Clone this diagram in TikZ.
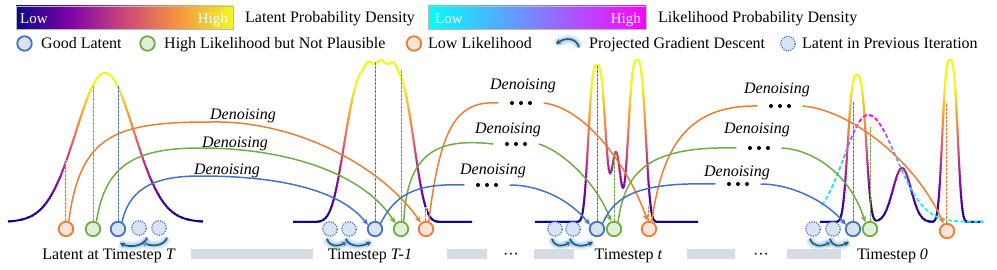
\documentclass[tikz,border=0pt]{standalone}
\usepackage{fontspec}
\setmainfont{Liberation Serif}
\usetikzlibrary{arrows.meta}
\definecolor{cblue}{HTML}{4472C4}
\definecolor{cgreen}{HTML}{70AD47}
\definecolor{corange}{HTML}{ED7D31}
\definecolor{fblue}{HTML}{DAE3F3}
\definecolor{fgreen}{HTML}{E2F0D9}
\definecolor{forange}{HTML}{FBE5D6}
\definecolor{pgdc}{HTML}{1F5F80}
\definecolor{glowc}{HTML}{9DC3E6}
\definecolor{barc}{HTML}{D5DCE6}
\definecolor{plA}{HTML}{0D0887}
\definecolor{plB}{HTML}{7E03A8}
\definecolor{plC}{HTML}{CC4778}
\definecolor{plD}{HTML}{F89540}
\definecolor{plE}{HTML}{F0F921}
\definecolor{coolA}{RGB}{0,255,255}
\definecolor{coolB}{RGB}{255,0,255}
\pgfdeclarehorizontalshading{plasmash}{100bp}{color(0bp)=(plA); color(25bp)=(plA); color(37.5bp)=(plB); color(50bp)=(plC); color(62.5bp)=(plD); color(75bp)=(plE); color(100bp)=(plE)}
\pgfdeclarelayer{bg}
\pgfdeclarelayer{mid}
\pgfsetlayers{bg,mid,main}
\newcommand\plasmaset[1]{%
  \pgfmathsetmacro\plT{max(0,min(0.999,#1))*4}%
  \pgfmathtruncatemacro\plK{\plT}%
  \pgfmathtruncatemacro\plP{(\plT-\plK)*100}%
  \ifcase\plK\space\colorlet{segc}{plB!\plP!plA}\or\colorlet{segc}{plC!\plP!plB}\or\colorlet{segc}{plD!\plP!plC}\else\colorlet{segc}{plE!\plP!plD}\fi}
\newcommand\coolset[1]{%
  \pgfmathtruncatemacro\clP{(max(0,min(1,#1)))^2*100}%
  \colorlet{segl}{coolB!\clP!coolA}}
\begin{document}
\begin{tikzpicture}[x=1pt,y=-1pt,
  declare function={
    fA(\x)=149*exp(0-((\x-105)^2)/1682);
    fB(\x)=160*exp(max(-15,0-(abs(\x-381)/ifthenelse(\x<381,40,36))^4))+2*exp(max(-15,0-(min(abs(\x-381),40)/20)^6))*cos(28*(\x-381));
    fC(\x)=157*exp(max(-15,0-(abs(\x-597)/10.2)^3))+70*exp(max(-15,0-((\x-616)^2)/40.5))+162*exp(max(-15,0-(abs(\x-637)/10.3)^3));
    fD(\x)=147*exp(max(-15,0-(abs(\x-857)/10.8)^3))+54*exp(max(-15,0-((\x-902)^2)/162))+162*exp(max(-15,0-(abs(\x-950)/9.05)^3));
    fL(\x)=107*exp(max(-15,0-((\x-868)^2)/ifthenelse(\x<868,1152,1568)));
  },
  txt/.style={font=\fontsize{16}{19}\selectfont, inner sep=0pt},
  lbl/.style={font=\fontsize{16}{19}\selectfont\itshape, inner sep=0pt},
  lowhigh/.style={font=\fontsize{15}{18}\selectfont, text=white, inner sep=0pt},
  cbar/.style={draw=gray!55, line width=0.7pt, minimum width=217pt, minimum height=23pt, inner sep=0pt},
  latc/.style={circle, minimum size=14.5pt, inner sep=0pt, line width=1.8pt},
  gl/.style={latc, draw=cblue, fill=fblue},
  hl/.style={latc, draw=cgreen, fill=fgreen},
  ll/.style={latc, draw=corange, fill=forange},
  prevc/.style={latc, draw=cblue, fill=fblue, line width=1.7pt, line cap=round, dash pattern=on 0.01pt off 2.45pt},
  vl/.style={line width=0.9pt, dash pattern=on 2.5pt off 1.5pt},
  vlo/.style={line width=0.6pt, draw=corange, double=forange, double distance=0.7pt, dash pattern=on 2.5pt off 1.5pt},
  dseg/.style={line width=1.5pt},
  den/.style={line width=1.5pt, -{Stealth[length=6.5pt,width=5.5pt]}},
  dotsn/.style={minimum width=45pt, minimum height=6pt, inner sep=0pt,
    path picture={\fill (path picture bounding box.center) circle (2pt) ++(-9,0) circle (2pt) ++(18,0) circle (2pt);}},
  pgd/.style={line width=1.7pt, draw=pgdc, line cap=round, -{Stealth[length=5pt,width=5.5pt]},
    preaction={draw=glowc, line width=9pt, opacity=0.3, -},
    preaction={draw=glowc, line width=5pt, opacity=0.55, -}},
  gbar/.style={fill=barc, inner sep=0pt, minimum height=10pt},
  dens/.style={line width=2pt, line join=round},
  lik/.style={line width=1.6pt, dash pattern=on 4pt off 2.5pt}
]
\useasboundingbox (0,0) rectangle (997,270);

% ---------- legend row 1
\node[cbar, shade, shading=plasmash] (cb1) at (124.5,17.5) {};
\node[lowhigh, anchor=base west] (cb1lo) at (20,24) {Low};
\node[lowhigh, anchor=base east] (cb1hi) at (228,24) {High};
\node[txt, anchor=base west] (t1) at (245,23) {Latent Probability Density};
\node[cbar, minimum width=218pt, left color=coolA, right color=coolB] (cb2) at (537,17.5) {};
\node[lowhigh, anchor=base west] (cb2lo) at (435,24) {Low};
\node[lowhigh, anchor=base east] (cb2hi) at (641,24) {High};
\node[txt, anchor=base west] (t2) at (658,23) {Likelihood Probability Density};

% ---------- legend row 2
\node[gl] (lg1) at (24.5,43.5) {};
\node[txt, anchor=base west] (t3) at (41,49) {Good Latent};
\node[hl] (lg2) at (147.5,43.5) {};
\node[txt, anchor=base west] (t4) at (164,49) {High Likelihood but Not Plausible};
\node[ll] (lg3) at (414,43.5) {};
\node[txt, anchor=base west] (t5) at (428,49) {Low Likelihood};
\coordinate (icA) at (579,47);
\coordinate (icB) at (556,44);
\draw[pgd] (icA) .. controls (576,38) and (566,37) .. (icB);
\node[txt, anchor=base west] (t6) at (589,49) {Projected Gradient Descent};
\node[prevc] (lg5) at (788,43.5) {};
\node[txt, anchor=base west] (t7) at (802,49) {Latent in Previous Iteration};

% ---------- latent circles
\node[ll] (o1) at (66,229) {};
\node[hl] (g1) at (93,229) {};
\node[gl] (b1) at (118,229) {};
\node[prevc] (d11) at (139,228) {};
\node[prevc] (d12) at (159,228) {};

\node[prevc] (d21) at (330,229) {};
\node[prevc] (d22) at (349,229) {};
\node[gl] (b2) at (375,229) {};
\node[hl] (g2) at (401,229) {};
\node[ll] (o2) at (426,229) {};

\node[prevc] (d31) at (555,229) {};
\node[prevc] (d32) at (573,229) {};
\node[gl] (b3) at (597,229) {};
\node[hl] (g3) at (614,229) {};
\node[ll] (o3) at (649,229) {};

\node[prevc] (d41) at (813,229) {};
\node[prevc] (d42) at (833,229) {};
\node[gl] (b4) at (853,229) {};
\node[hl] (g4) at (870,229) {};
\node[ll] (o4) at (947,231) {};

% ---------- dots nodes
\node[dotsn] (do2) at (521,103) {};
\node[dotsn] (dg2) at (516,144) {};
\node[dotsn] (db2) at (487,185) {};
\node[dotsn] (do3) at (780,106) {};
\node[dotsn] (dg3) at (759,148) {};
\node[dotsn] (db3) at (738,184) {};

% ---------- labels
\node[lbl, anchor=base] (lo1) at (243,120) {Denoising};
\node[lbl, anchor=base] (lg1l) at (235,147) {Denoising};
\node[lbl, anchor=base] (lb1) at (227,174) {Denoising};
\node[lbl, anchor=base] (lo2) at (523,90) {Denoising};
\node[lbl, anchor=base] (lg2l) at (508,133) {Denoising};
\node[lbl, anchor=base] (lb2) at (493,174) {Denoising};
\node[lbl, anchor=base] (lo3) at (777,94) {Denoising};
\node[lbl, anchor=base] (lg3l) at (757,134) {Denoising};
\node[lbl, anchor=base] (lb3) at (737,176) {Denoising};

% ---------- density curves (colour by height)
\begin{pgfonlayer}{bg}
\path[save path=\pA] plot[domain=8:203,samples=150] (\x,{222-fA(\x)});
\path[save path=\pB] plot[domain=293:472,samples=200] (\x,{222-fB(\x)});
\path[save path=\pC] plot[domain=535:698,samples=200] (\x,{222-fC(\x)});
\path[save path=\pD] plot[domain=820:983,samples=200] (\x,{222-fD(\x)});
\path[save path=\pL] plot[domain=822:983,samples=140] (\x,{222-fL(\x)});
\foreach \k in {0,...,88}{
  \pgfmathsetmacro\yt{52+2*\k}
  \pgfmathsetmacro\yb{\yt+2.4}
  \pgfmathsetmacro\hh{222-(\yt+1)}
  \plasmaset{\hh/135}
  \coolset{\hh/105}
  \begin{scope}
    \clip (0,\yt) rectangle (997,\yb);
    \draw[dens, draw=segc, use path=\pA];
    \draw[dens, draw=segc, use path=\pB];
    \draw[dens, draw=segc, use path=\pC];
    \draw[dens, draw=segc, use path=\pD];
    \draw[lik, draw=segl, use path=\pL];
  \end{scope}
}
\end{pgfonlayer}

% ---------- vertical dashed lines and denoising curves
\begin{pgfonlayer}{mid}
\coordinate (vo1) at (66,160);
\coordinate (vg1) at (93,86);
\coordinate (vb1) at (118,86);
\coordinate (vb2) at (375,62);
\coordinate (vg2) at (401,70);
\coordinate (vo2) at (426,207);
\coordinate (vb3) at (597,66);
\coordinate (vg3) at (614,151);
\coordinate (vo3) at (649,205);
\coordinate (vb4) at (853,102);
\coordinate (vg4) at (870,127);
\coordinate (vo4) at (947,102);
\draw[vlo] (o1) -- (vo1);
\draw[vl, cgreen] (g1) -- (vg1);
\draw[vl, cblue] (b1) -- (vb1);
\draw[vl, cblue] (b2) -- (vb2);
\draw[vl, cgreen] (g2) -- (vg2);
\draw[vlo] (o2) -- (vo2);
\draw[vl, cblue] (b3) -- (vb3);
\draw[vl, cgreen] (g3) -- (vg3);
\draw[vlo] (o3) -- (vo3);
\draw[vl, cblue] (b4) -- (vb4);
\draw[vl, cgreen] (g4) -- (vg4);
\draw[vlo] (o4) -- (vo4);

% timestep T -> T-1
\draw[den, corange] (o1.70) .. controls (80,135) and (115,122) .. (210,122) .. controls (300,120) and (385,170) .. (o2.130);
\draw[den, cgreen] (g1.65) .. controls (105,165) and (135,148) .. (200,148) .. controls (290,148) and (365,175) .. (g2.135);
\draw[den, cblue] (b1.60) .. controls (130,185) and (160,176) .. (200,176) .. controls (280,176) and (340,190) .. (b2.150);
% T-1 -> t
\draw[dseg, corange] (o2.70) .. controls (440,130) and (455,100) .. (do2.west);
\draw[den, corange] (do2.east) .. controls (585,108) and (628,165) .. (o3.100);
\draw[dseg, cgreen] (g2.70) .. controls (407,150) and (440,138) .. (dg2.west);
\draw[den, cgreen] (dg2.east) .. controls (560,150) and (595,180) .. (g3.110);
\draw[dseg, cblue] (b2.45) .. controls (395,195) and (415,183) .. (db2.west);
\draw[den, cblue] (db2.east) .. controls (540,185) and (570,200) .. (b3.150);
% t -> 0
\draw[dseg, corange] (o3.70) .. controls (662,150) and (685,105) .. (do3.west);
\draw[den, corange] (do3.east) .. controls (850,110) and (915,160) .. (o4.115);
\draw[dseg, cgreen] (g3.60) .. controls (625,170) and (650,146) .. (dg3.west);
\draw[den, cgreen] (dg3.east) .. controls (815,150) and (850,175) .. (g4.125);
\draw[dseg, cblue] (b3.45) .. controls (615,195) and (640,182) .. (db3.west);
\draw[den, cblue] (db3.east) .. controls (790,184) and (825,200) .. (b4.150);
\end{pgfonlayer}

% ---------- projected gradient descent arrows
\draw[pgd] ([shift={(8,10)}]d12.center) .. controls +(-3,8) and +(10,5) .. ([shift={(3,14)}]d11.center);
\draw[pgd] ([shift={(8,10)}]d11.center) .. controls +(-3,8) and +(10,5) .. ([shift={(2,14)}]b1.center);
\draw[pgd] ([shift={(-3,10)}]d21.center) .. controls +(3,8) and +(-10,5) .. ([shift={(-2,13)}]d22.center);
\draw[pgd] ([shift={(-3,10)}]d22.center) .. controls +(3,8) and +(-10,5) .. ([shift={(-4,13)}]b2.center);
\draw[pgd] ([shift={(-3,10)}]d31.center) .. controls +(3,8) and +(-10,5) .. ([shift={(-2,13)}]d32.center);
\draw[pgd] ([shift={(-3,10)}]d32.center) .. controls +(3,8) and +(-10,5) .. ([shift={(-4,13)}]b3.center);
\draw[pgd] ([shift={(-3,10)}]d41.center) .. controls +(3,8) and +(-10,5) .. ([shift={(-2,13)}]d42.center);
\draw[pgd] ([shift={(-3,10)}]d42.center) .. controls +(3,8) and +(-10,5) .. ([shift={(-4,13)}]b4.center);

% ---------- timeline
\node[gbar, minimum width=122pt] (bar1) at (252,254) {};
\node[gbar, minimum width=40pt] (bar2) at (467,254) {};
\node[gbar, minimum width=40pt] (bar3) at (554,254) {};
\node[gbar, minimum width=48pt] (bar4) at (711,254) {};
\node[gbar, minimum width=54pt] (bar5) at (814,254) {};
\node[txt, anchor=base] (ts1) at (109,259) {Latent at Timestep \textit{T}};
\node[txt, anchor=base] (ts2) at (370,259) {Timestep \textit{T-1}};
\node[txt, anchor=base] (el1) at (511,259) {\textperiodcentered\textperiodcentered\textperiodcentered};
\node[txt, anchor=base] (ts3) at (628.5,259) {Timestep \textit{t}};
\node[txt, anchor=base] (el2) at (761,259) {\textperiodcentered\textperiodcentered\textperiodcentered};
\node[txt, anchor=base] (ts4) at (892.5,259) {Timestep \textit{0}};
\end{tikzpicture}
\end{document}
